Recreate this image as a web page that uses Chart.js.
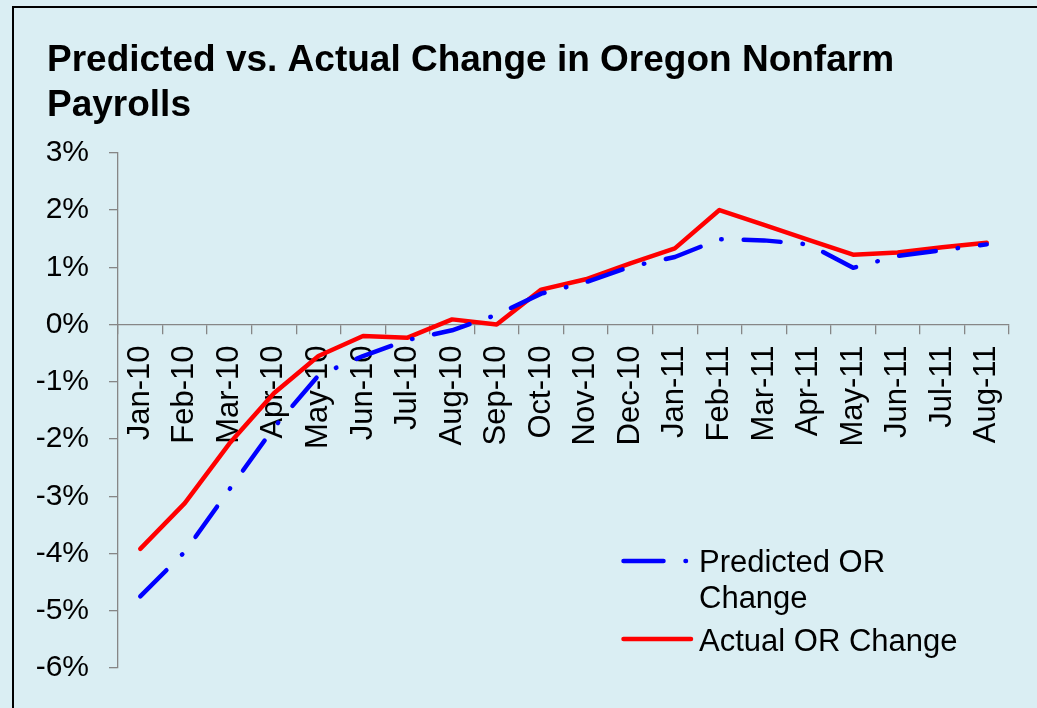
<!DOCTYPE html>
<html>
<head>
<meta charset="utf-8">
<script src="https://cdn.jsdelivr.net/npm/chart.js@4/dist/chart.umd.min.js"></script>
<style>
html, body { margin: 0; padding: 0; background: #DAEEF3; overflow: hidden; }
#frame { position: absolute; left: 12px; top: 6px; width: 1100px; height: 800px; border: 2px solid #000; }
#wrap { position: absolute; left: 0; top: 0; width: 1037px; height: 708px; }
</style>
</head>
<body>
<div id="frame"></div>
<div id="wrap"><canvas id="myChart"></canvas></div>
<script>
var months = ["Jan-10", "Feb-10", "Mar-10", "Apr-10", "May-10", "Jun-10", "Jul-10", "Aug-10", "Sep-10", "Oct-10",
              "Nov-10", "Dec-10", "Jan-11", "Feb-11", "Mar-11", "Apr-11", "May-11", "Jun-11", "Jul-11", "Aug-11"];
var predicted = [-4.75, -3.97, -2.88, -1.80, -0.89, -0.55, -0.27, -0.10, 0.17, 0.54,
                 0.74, 1.01, 1.18, 1.49, 1.47, 1.40, 0.99, 1.20, 1.30, 1.40];
var actual = [-3.92, -3.12, -2.08, -1.20, -0.55, -0.20, -0.23, 0.09, 0.00, 0.61,
              0.79, 1.07, 1.33, 2.00, 1.74, 1.48, 1.22, 1.26, 1.35, 1.43];
var seriesNames = ["Predicted OR Change", "Actual OR Change"];
var titleLines = ["Predicted vs. Actual Change in Oregon Nonfarm", "Payrolls"];
var yMin = -6, yMax = 3;

var axisGray = "#868686";
var font = '"Liberation Sans", Arial, sans-serif';
Chart.defaults.font.family = font;
Chart.defaults.color = "#000";

// legend drawn by hand so the dash-dot sample looks like the excel one
var sideLegend = {
  id: "sideLegend",
  afterLayout: function (chart) {
    // title sits a bit right of the y labels
    chart.titleBlock.left += 13;
    chart.titleBlock.right += 13;
  },
  afterDraw: function (chart) {
    var ctx = chart.ctx;
    var rows = [
      { ds: 0, y: 561, x0: 623.5, x1: 688, dash: [40, 22, 0.5, 200], lines: ["Predicted OR", "Change"], base: 572 },
      { ds: 1, y: 639, x0: 623.5, x1: 691, dash: [], lines: ["Actual OR Change"], base: 651 }
    ];
    ctx.save();
    rows.forEach(function (r) {
      var ds = chart.data.datasets[r.ds];
      ctx.beginPath();
      ctx.setLineDash(r.dash);
      ctx.lineCap = "round";
      ctx.strokeStyle = ds.borderColor;
      ctx.lineWidth = ds.borderWidth;
      ctx.moveTo(r.x0, r.y);
      ctx.lineTo(r.x1, r.y);
      ctx.stroke();
      ctx.setLineDash([]);
      ctx.fillStyle = "#000";
      ctx.font = "31px " + font;
      ctx.textBaseline = "alphabetic";
      ctx.textAlign = "left";
      r.lines.forEach(function (t, i) {
        ctx.fillText(t, 699, r.base + i * 36);
      });
    });
    ctx.restore();
  }
};

new Chart("myChart", {
  type: "line",
  data: {
    labels: months,
    datasets: [{
      label: seriesNames[0],
      data: predicted,
      borderColor: "#0000FF",
      borderWidth: 4.5,
      borderDash: [37, 22, 0.5, 22],
      borderCapStyle: "round",
      borderJoinStyle: "round",
      pointRadius: 0,
      tension: 0
    }, {
      label: seriesNames[1],
      data: actual,
      borderColor: "#FF0000",
      borderWidth: 4.5,
      borderCapStyle: "round",
      borderJoinStyle: "round",
      pointRadius: 0,
      tension: 0
    }]
  },
  options: {
    responsive: true,
    maintainAspectRatio: false,
    animation: false,
    layout: { padding: { left: 34, right: 28, top: 0, bottom: 40 } },
    plugins: {
      legend: { display: false },
      tooltip: { enabled: false },
      title: {
        display: true,
        text: titleLines,
        align: "start",
        color: "#000",
        font: { size: 37, weight: "bold", lineHeight: 1.2 },
        padding: { top: 39, bottom: 25 }
      }
    },
    scales: {
      x: {
        position: { y: 0 },
        offset: true,
        afterFit: function (scale) { scale.height = 0; },
        border: { color: axisGray, width: 1.3 },
        grid: { offset: true, drawOnChartArea: false, drawTicks: true, tickLength: 9, color: axisGray, lineWidth: 1.3 },
        ticks: { autoSkip: false, minRotation: 90, maxRotation: 90, padding: 12, font: { size: 31 }, color: "#000" }
      },
      y: {
        min: yMin,
        max: yMax,
        afterFit: function (scale) { scale.width = 84; },
        border: { color: axisGray, width: 1.3 },
        grid: { drawOnChartArea: false, drawTicks: true, tickLength: 9, color: axisGray, lineWidth: 1.3 },
        ticks: {
          stepSize: 1,
          padding: 20,
          font: { size: 30 },
          color: "#000",
          callback: function (v) { return v + "%"; }
        }
      }
    }
  },
  plugins: [sideLegend]
});
</script>
</body>
</html>
